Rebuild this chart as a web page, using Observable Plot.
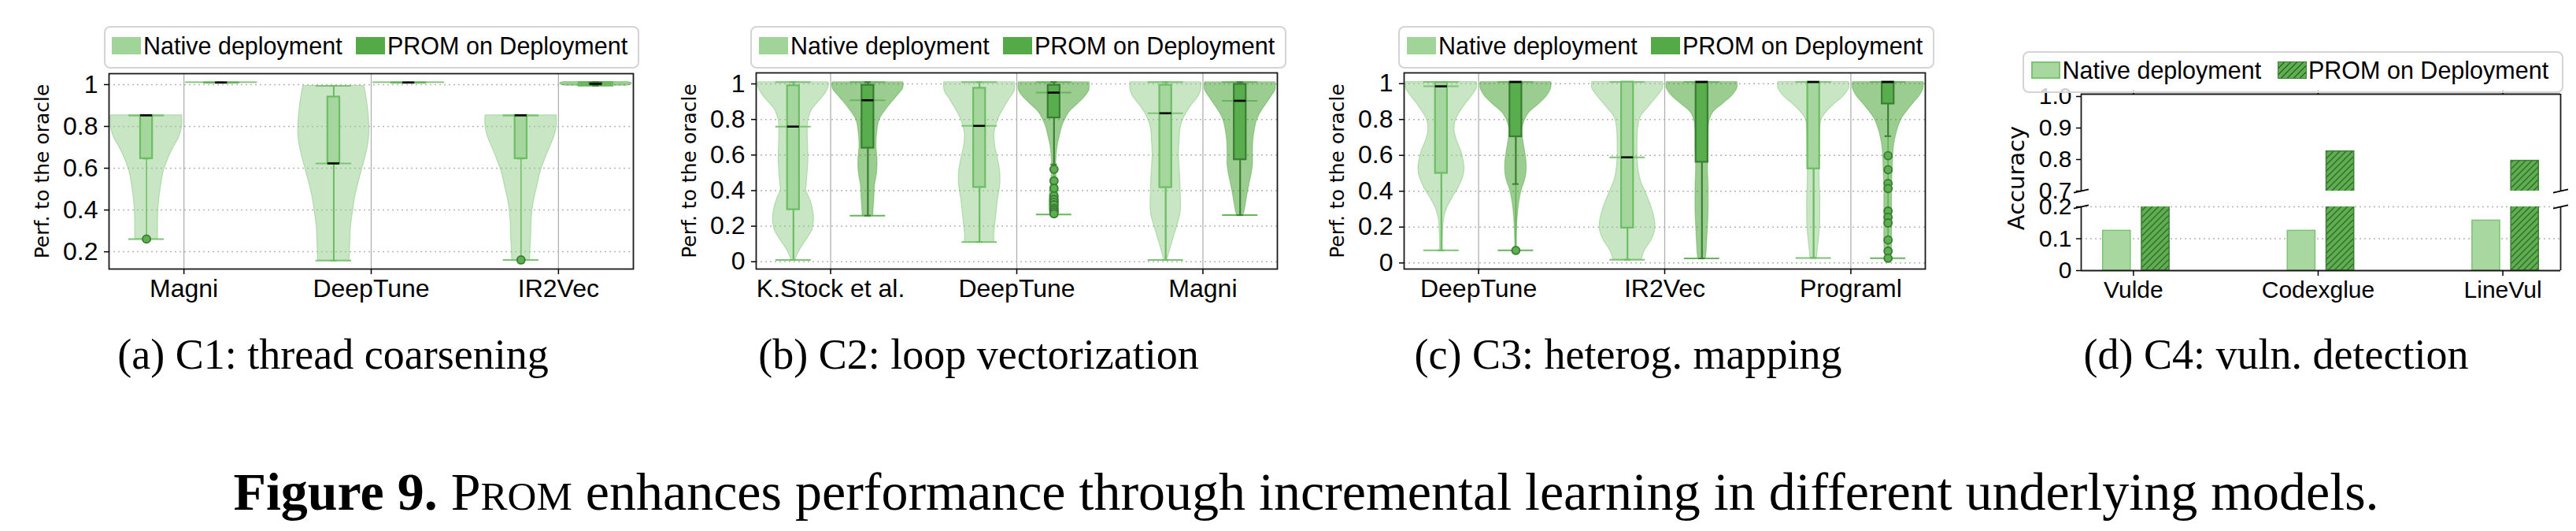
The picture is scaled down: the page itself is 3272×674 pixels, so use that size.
<!DOCTYPE html>
<html><head><meta charset="utf-8">
<script src="https://cdn.jsdelivr.net/npm/d3@7"></script>
<script src="https://cdn.jsdelivr.net/npm/@observablehq/plot@0.6"></script>
<style>
body{margin:0;background:#fff;}
#root{position:relative;width:3272px;height:674px;overflow:hidden;background:#fff;}
#root svg{position:absolute;}
.legend{position:absolute;box-sizing:border-box;border:2px solid #d4d4d4;border-radius:8px;background:rgba(255,255,255,0.8);font-family:"Liberation Sans",Arial,sans-serif;font-size:30.5px;color:#000;}
.sw{position:absolute;box-sizing:border-box;}
.lt{position:absolute;white-space:nowrap;line-height:1;}
</style></head><body><div id="root"></div>
<script>
// ================= DATA =================
const seriesNames = ["Native deployment", "PROM on Deployment"];

// ---- (a) C1: thread coarsening ----
const catsA = ["Magni", "DeepTune", "IR2Vec"];
const yTicksA = [0.2, 0.4, 0.6, 0.8, 1];
const yTickLabelsA = ["0.2", "0.4", "0.6", "0.8", "1"];
const aNatLevels = [
  [0.853, 0.80, 0.75, 0.70, 0.65, 0.585, 0.52, 0.46, 0.40, 0.334, 0.284, 0.261],
  [0.994, 0.90, 0.774, 0.70, 0.623, 0.548, 0.472, 0.397, 0.32, 0.246, 0.158],
  [0.853, 0.80, 0.75, 0.70, 0.65, 0.585, 0.52, 0.46, 0.40, 0.334, 0.27, 0.21, 0.161]
];
const aNatWidths = [
  [1.0, 1.0, 0.92, 0.76, 0.62, 0.48, 0.41, 0.36, 0.33, 0.32, 0.32, 0.32],
  [0.86, 0.95, 1.0, 0.95, 0.84, 0.72, 0.61, 0.54, 0.48, 0.46, 0.44],
  [1.0, 1.0, 0.93, 0.81, 0.69, 0.55, 0.46, 0.38, 0.32, 0.29, 0.28, 0.26, 0.25]
];
// [min, lower whisker, q1, median, q3, upper whisker, max]
const aNatStats = [
  [0.261, 0.646, 0.646, 0.853, 0.853, 0.853, 0.853],
  [0.158, 0.158, 0.623, 0.623, 0.941, 0.994, 0.994],
  [0.161, 0.646, 0.646, 0.853, 0.853, 0.853, 0.853]
];
const aNatOutliers = [[0.261], [], [0.161]];
const aPromLevels = [[1.012, 1.008], [1.012, 1.008], [1.013, 1.008, 1.002, 0.995]];
const aPromWidths = [[1, 1], [1, 1], [0.9, 1.0, 1.0, 0.85]];
const aPromStats = [
  [1.01, 1.01, 1.01, 1.01, 1.01, 1.01, 1.01],
  [1.01, 1.01, 1.01, 1.01, 1.01, 1.01, 1.01],
  [0.995, 0.995, 0.999, 1.004, 1.008, 1.013, 1.013]
];
const aPromOutliers = [[], [], []];

// ---- (b) C2: loop vectorization ----
const catsB = ["K.Stock et al.", "DeepTune", "Magni"];
const yTicksB = [0, 0.2, 0.4, 0.6, 0.8, 1];
const yTickLabelsB = ["0", "0.2", "0.4", "0.6", "0.8", "1"];
const bNatLevels = [
  [1.01, 0.99, 0.946, 0.902, 0.857, 0.798, 0.754, 0.65, 0.577, 0.43, 0.40, 0.355, 0.311, 0.237, 0.178, 0.118, 0.059, 0.01],
  [1.01, 0.961, 0.917, 0.857, 0.798, 0.724, 0.65, 0.577, 0.503, 0.429, 0.355, 0.281, 0.207, 0.148, 0.111],
  [1.01, 0.968, 0.931, 0.872, 0.813, 0.754, 0.68, 0.606, 0.532, 0.458, 0.384, 0.325, 0.266, 0.207, 0.133, 0.059, 0.01]
];
const bNatWidths = [
  [0.99, 1.0, 0.9, 0.72, 0.53, 0.42, 0.40, 0.41, 0.42, 0.37, 0.36, 0.46, 0.53, 0.58, 0.53, 0.35, 0.16, 0.05],
  [1.0, 0.99, 0.85, 0.67, 0.52, 0.42, 0.44, 0.52, 0.58, 0.58, 0.52, 0.48, 0.44, 0.41, 0.42],
  [1.0, 1.0, 0.93, 0.70, 0.52, 0.42, 0.39, 0.37, 0.39, 0.41, 0.42, 0.43, 0.41, 0.33, 0.22, 0.11, 0.04]
];
const bNatStats = [
  [0.01, 0.01, 0.293, 0.76, 0.99, 1.01, 1.01],
  [0.111, 0.111, 0.418, 0.764, 0.976, 1.01, 1.01],
  [0.01, 0.01, 0.417, 0.835, 0.993, 1.01, 1.01]
];
const bNatOutliers = [[], [], []];
const bPromLevels = [
  [1.01, 0.976, 0.946, 0.902, 0.857, 0.798, 0.724, 0.65, 0.576, 0.503, 0.429, 0.355, 0.296, 0.259],
  [1.01, 0.968, 0.931, 0.887, 0.843, 0.798, 0.754, 0.695, 0.65, 0.591, 0.547, 0.473, 0.414, 0.355, 0.296, 0.266],
  [1.01, 0.968, 0.931, 0.887, 0.843, 0.798, 0.739, 0.68, 0.606, 0.547, 0.503, 0.444, 0.384, 0.325, 0.274, 0.262]
];
const bPromWidths = [
  [1.0, 1.0, 0.89, 0.70, 0.52, 0.33, 0.26, 0.24, 0.27, 0.26, 0.20, 0.18, 0.16, 0.15],
  [1.0, 1.0, 0.89, 0.67, 0.44, 0.31, 0.22, 0.15, 0.10, 0.07, 0.06, 0.07, 0.10, 0.13, 0.13, 0.11],
  [1.0, 1.0, 0.89, 0.74, 0.59, 0.48, 0.41, 0.37, 0.36, 0.36, 0.33, 0.27, 0.21, 0.16, 0.11, 0.09]
];
const bPromStats = [
  [0.259, 0.259, 0.639, 0.908, 0.993, 1.01, 1.01],
  [0.266, 0.547, 0.809, 0.951, 0.993, 1.01, 1.01],
  [0.262, 0.262, 0.574, 0.905, 0.998, 1.01, 1.01]
];
const bPromOutliers = [[], [0.52, 0.455, 0.413, 0.37, 0.35, 0.335, 0.32, 0.30, 0.29, 0.28, 0.27], []];

// ---- (c) C3: heterog. mapping ----
const catsC = ["DeepTune", "IR2Vec", "Programl"];
const yTicksC = [0, 0.2, 0.4, 0.6, 0.8, 1];
const yTickLabelsC = ["0", "0.2", "0.4", "0.6", "0.8", "1"];
const cNatLevels = [
  [1.009, 0.975, 0.931, 0.872, 0.799, 0.74, 0.682, 0.623, 0.565, 0.521, 0.477, 0.418, 0.359, 0.301, 0.242, 0.183, 0.125, 0.07],
  [1.009, 0.975, 0.931, 0.872, 0.814, 0.755, 0.682, 0.609, 0.535, 0.462, 0.389, 0.315, 0.242, 0.183, 0.125, 0.066, 0.018],
  [1.009, 0.975, 0.931, 0.887, 0.843, 0.799, 0.726, 0.652, 0.579, 0.506, 0.433, 0.359, 0.286, 0.213, 0.139, 0.066, 0.028]
];
const cNatWidths = [
  [1.0, 1.0, 0.86, 0.63, 0.41, 0.37, 0.44, 0.56, 0.63, 0.65, 0.61, 0.48, 0.30, 0.15, 0.07, 0.05, 0.04, 0.04],
  [1.0, 1.0, 0.85, 0.60, 0.37, 0.30, 0.28, 0.28, 0.30, 0.37, 0.52, 0.67, 0.77, 0.78, 0.67, 0.48, 0.40],
  [1.0, 1.0, 0.85, 0.59, 0.37, 0.22, 0.18, 0.17, 0.165, 0.165, 0.17, 0.185, 0.185, 0.18, 0.15, 0.11, 0.09]
];
const cNatStats = [
  [0.07, 0.07, 0.50, 0.985, 1.007, 1.009, 1.009],
  [0.018, 0.018, 0.195, 0.589, 1.009, 1.009, 1.009],
  [0.028, 0.028, 0.525, 1.009, 1.009, 1.009, 1.009]
];
const cNatOutliers = [[], [], []];
const cPromLevels = [
  [1.009, 0.975, 0.931, 0.887, 0.843, 0.799, 0.74, 0.682, 0.623, 0.565, 0.506, 0.462, 0.403, 0.33, 0.257, 0.183, 0.11, 0.07],
  [1.009, 0.975, 0.931, 0.887, 0.843, 0.799, 0.726, 0.652, 0.579, 0.506, 0.433, 0.359, 0.286, 0.213, 0.139, 0.066, 0.025],
  [1.009, 0.975, 0.931, 0.887, 0.843, 0.799, 0.74, 0.682, 0.623, 0.535, 0.433, 0.33, 0.213, 0.125, 0.066, 0.028]
];
const cPromWidths = [
  [1.0, 1.0, 0.88, 0.66, 0.40, 0.26, 0.18, 0.21, 0.26, 0.30, 0.30, 0.26, 0.16, 0.09, 0.05, 0.03, 0.02, 0.02],
  [1.0, 1.0, 0.85, 0.59, 0.33, 0.22, 0.185, 0.185, 0.17, 0.17, 0.185, 0.185, 0.185, 0.17, 0.15, 0.13, 0.11],
  [1.0, 1.0, 0.89, 0.70, 0.52, 0.37, 0.26, 0.19, 0.15, 0.13, 0.11, 0.11, 0.11, 0.11, 0.10, 0.07]
];
const cPromStats = [
  [0.07, 0.44, 0.704, 1.009, 1.009, 1.009, 1.009],
  [0.025, 0.025, 0.562, 1.009, 1.009, 1.009, 1.009],
  [0.026, 0.707, 0.887, 1.009, 1.009, 1.009, 1.009]
];
const cPromOutliers = [[0.07], [], [0.598, 0.52, 0.443, 0.415, 0.289, 0.254, 0.223, 0.128, 0.066, 0.026]];

// ---- (d) C4: vuln. detection ----
const catsD = ["Vulde", "Codexglue", "LineVul"];
const dNative = [0.125, 0.125, 0.157];
const dProm = [0.25, 0.826, 0.796];
const dUpperTicks = [0.7, 0.8, 0.9, 1.0];
const dUpperTickLabels = ["0.7", "0.8", "0.9", "1.0"];
const dLowerTicks = [0, 0.1, 0.2];
const dLowerTickLabels = ["0", "0.1", "0.2"];

const yLabelABC = "Perf. to the oracle";
const yLabelD = "Accuracy";
const subCaptions = ["(a) C1: thread coarsening", "(b) C2: loop vectorization", "(c) C3: heterog. mapping", "(d) C4: vuln. detection"];
const figLead = "Figure 9.";
const figName = ["P", "ROM"];
const figRest = " enhances performance through incremental learning in different underlying models.";

// ================= STYLE / LAYOUT =================
const FONT = "'Liberation Sans', Arial, Helvetica, sans-serif";
const HW = 0.19, OFF = 0.2, BOXW = 0.032, EXW = 0.095, CAPW = 0.017;
const NAT = {violin: "#91cd89", line: "#7cc474", boxFill: "#a5d69e", boxEdge: "#6cbd64"};
const PRO = {violin: "#379b23", line: "#66b55b", boxFill: "#58ad4c", boxEdge: "#3b7d34"};

const root = document.getElementById("root");

// hatch pattern
const defs = d3.create("svg").attr("width", 0).attr("height", 0).style("position", "absolute");
const pat = defs.append("defs").append("pattern").attr("id", "hatchD")
  .attr("patternUnits", "userSpaceOnUse").attr("width", 8).attr("height", 8);
pat.append("rect").attr("width", 8).attr("height", 8).attr("fill", "#5fae52");
pat.append("path").attr("d", "M-2,2 L2,-2 M0,8 L8,0 M6,10 L10,6").attr("stroke", "#2e6a28").attr("stroke-width", 1.3);
root.appendChild(defs.node());

function place(svg, left, top) {
  svg.style.left = left + "px";
  svg.style.top = top + "px";
  root.appendChild(svg);
}

function violinPanel(o) {
  const groups = [
    {key: "n", off: -OFF, c: NAT, levels: o.natLevels, widths: o.natWidths, stats: o.natStats, out: o.natOut},
    {key: "p", off: OFF, c: PRO, levels: o.promLevels, widths: o.promWidths, stats: o.promStats, out: o.promOut}
  ];
  const viol = [], stats = [], ext = [], outs = [];
  groups.forEach(g => o.cats.forEach((c, i) => {
    const pos = i + g.off;
    g.levels[i].forEach((v, j) => viol.push({id: g.key + i, key: g.key, v,
      xl: pos - g.widths[i][j] * HW, xr: pos + g.widths[i][j] * HW}));
    const [mn, wl, q1, md, q3, wh, mx] = g.stats[i];
    stats.push({pos, mn, wl, q1, md, q3, wh, mx, line: g.c.line, boxFill: g.c.boxFill, boxEdge: g.c.boxEdge});
    [mn, mx, md].forEach(v => ext.push({pos, v, line: g.c.line}));
    g.out[i].forEach(v => outs.push({pos, v}));
  }));
  const idx = o.cats.map((c, i) => i);
  return Plot.plot({
    width: o.width, height: o.height,
    marginLeft: o.ml, marginRight: o.mr, marginTop: o.mt, marginBottom: o.mb,
    x: {domain: [-0.4, o.cats.length - 0.6]},
    y: {domain: o.yDomain},
    color: {type: "identity"},
    style: {fontFamily: FONT, background: "transparent", overflow: "visible"},
    marks: [
      Plot.gridY(o.yTicks, {stroke: "#b5b5b5", strokeDasharray: "2,4", strokeWidth: 1.5, strokeOpacity: 1}),
      Plot.gridX(idx, {stroke: "#b0b0b0", strokeWidth: 1.3, strokeOpacity: 1}),
      Plot.areaX(viol.filter(d => d.key === "n"), {y: "v", x1: "xl", x2: "xr", z: "id", fill: NAT.violin, fillOpacity: 0.5, stroke: NAT.violin, strokeOpacity: 0.6, strokeWidth: 1.2, curve: "catmull-rom"}),
      Plot.areaX(viol.filter(d => d.key === "p"), {y: "v", x1: "xl", x2: "xr", z: "id", fill: PRO.violin, fillOpacity: 0.5, stroke: PRO.violin, strokeOpacity: 0.35, strokeWidth: 1.2, curve: "catmull-rom"}),
      Plot.ruleX(stats, {x: "pos", y1: "mn", y2: "mx", stroke: "line", strokeWidth: 1.8}),
      Plot.ruleY(ext, {y: "v", x1: d => d.pos - EXW, x2: d => d.pos + EXW, stroke: "line", strokeWidth: 2}),
      Plot.ruleX(stats, {x: "pos", y1: "q3", y2: "wh", stroke: "boxEdge", strokeWidth: 2}),
      Plot.ruleX(stats, {x: "pos", y1: "q1", y2: "wl", stroke: "boxEdge", strokeWidth: 2}),
      Plot.ruleY(stats, {y: "wh", x1: d => d.pos - CAPW, x2: d => d.pos + CAPW, stroke: "boxEdge", strokeWidth: 2}),
      Plot.ruleY(stats, {y: "wl", x1: d => d.pos - CAPW, x2: d => d.pos + CAPW, stroke: "boxEdge", strokeWidth: 2}),
      Plot.rect(stats, {x1: d => d.pos - BOXW, x2: d => d.pos + BOXW, y1: "q1", y2: "q3", fill: "boxFill", stroke: "boxEdge", strokeWidth: 2.2}),
      Plot.ruleY(stats, {y: "md", x1: d => d.pos - BOXW, x2: d => d.pos + BOXW, stroke: "#000", strokeWidth: 2.6}),
      Plot.dot(outs, {x: "pos", y: "v", r: 5, fill: "#5cb050", stroke: "#3a7a33", strokeWidth: 1.8}),
      Plot.frame({stroke: "#1a1a1a", strokeWidth: 1.8}),
      Plot.axisY(o.yTicks, {tickFormat: d => o.yTickLabels[o.yTicks.indexOf(d)], fontSize: 32, tickSize: 6, tickPadding: 8, label: null, strokeWidth: 1.5}),
      Plot.axisX(idx, {tickFormat: d => o.cats[d], fontSize: 32, tickSize: 7, tickPadding: 6, label: null, strokeWidth: 1.5}),
      Plot.text([yLabelABC], {text: d => d, frameAnchor: "left", textAnchor: "middle", lineAnchor: "middle", rotate: -90, dx: -85, fontSize: 25, fontFamily: "'DejaVu Sans', sans-serif", fill: "#000"})
    ]
  });
}

// panel a
place(violinPanel({cats: catsA, yDomain: [0.1175, 1.0525], yTicks: yTicksA, yTickLabels: yTickLabelsA,
  natLevels: aNatLevels, natWidths: aNatWidths, natStats: aNatStats, natOut: aNatOutliers,
  promLevels: aPromLevels, promWidths: aPromWidths, promStats: aPromStats, promOut: aPromOutliers,
  width: 820, height: 400, ml: 138, mr: 16, mt: 93, mb: 59}), 0, 0);
// panel b
place(violinPanel({cats: catsB, yDomain: [-0.041, 1.062], yTicks: yTicksB, yTickLabels: yTickLabelsB,
  natLevels: bNatLevels, natWidths: bNatWidths, natStats: bNatStats, natOut: bNatOutliers,
  promLevels: bPromLevels, promWidths: bPromWidths, promStats: bPromStats, promOut: bPromOutliers,
  width: 820, height: 400, ml: 140, mr: 18, mt: 92, mb: 59}), 820, 0);
// panel c
place(violinPanel({cats: catsC, yDomain: [-0.034, 1.06], yTicks: yTicksC, yTickLabels: yTickLabelsC,
  natLevels: cNatLevels, natWidths: cNatWidths, natStats: cNatStats, natOut: cNatOutliers,
  promLevels: cPromLevels, promWidths: cPromWidths, promStats: cPromStats, promOut: cPromOutliers,
  width: 820, height: 400, ml: 143, mr: 15, mt: 92, mb: 59}), 1640, 0);

// panel d (broken y axis: two stacked plots)
const xDomD = [-0.283, 2.313];
const NAT_OFF_D = -0.09, PRO_OFF_D = 0.12, BARW_D = 0.15;
const barsD = [];
catsD.forEach((c, i) => {
  barsD.push({x1: i + NAT_OFF_D - BARW_D / 2, x2: i + NAT_OFF_D + BARW_D / 2, v: dNative[i], fill: "#a8d8a0", stroke: "#7cc474"});
  barsD.push({x1: i + PRO_OFF_D - BARW_D / 2, x2: i + PRO_OFF_D + BARW_D / 2, v: dProm[i], fill: "url(#hatchD)", stroke: "#3f7f37"});
});
const idxD = catsD.map((c, i) => i);
function breakLinks(yv, dy) {
  return xDomD.map(x => ({x1: x - 0.0405, x2: x + 0.0405, y1: yv - dy, y2: yv + dy}));
}
const upperD = Plot.plot({
  width: 812, height: 400, marginLeft: 183, marginRight: 20, marginTop: 119, marginBottom: 158,
  x: {domain: xDomD}, y: {domain: [0.7, 1.0075]},
  color: {type: "identity"},
  style: {fontFamily: FONT, background: "transparent", overflow: "visible"},
  marks: [
    Plot.rect(barsD, {x1: "x1", x2: "x2", y1: 0, y2: "v", fill: "fill", stroke: "stroke", strokeWidth: 1.5, clip: true}),
    Plot.ruleX(xDomD, {stroke: "#1a1a1a", strokeWidth: 1.8}),
    Plot.ruleY([1.0075], {stroke: "#1a1a1a", strokeWidth: 1.8}),
    Plot.axisY(dUpperTicks, {tickFormat: d => dUpperTickLabels[dUpperTicks.indexOf(d)], fontSize: 30, tickSize: 6, tickPadding: 6, label: null, strokeWidth: 1.5}),
    Plot.axisX(idxD, {anchor: "top", tickFormat: () => "", tickSize: 6, label: null, strokeWidth: 1.5}),
    Plot.link(breakLinks(0.7, 0.0055), {x1: "x1", x2: "x2", y1: "y1", y2: "y2", stroke: "#000", strokeWidth: 1.8})
  ]
});
place(upperD, 2460, 0);
const lowerD = Plot.plot({
  width: 812, height: 400, marginLeft: 183, marginRight: 20, marginTop: 262, marginBottom: 57,
  x: {domain: xDomD}, y: {domain: [0, 0.2]},
  color: {type: "identity"},
  style: {fontFamily: FONT, background: "transparent", overflow: "visible"},
  marks: [
    Plot.gridY([0.1, 0.2], {stroke: "#b5b5b5", strokeDasharray: "2,4", strokeWidth: 1.5, strokeOpacity: 1}),
    Plot.rect(barsD, {x1: "x1", x2: "x2", y1: 0, y2: "v", fill: "fill", stroke: "stroke", strokeWidth: 1.5, clip: true}),
    Plot.ruleX(xDomD, {stroke: "#1a1a1a", strokeWidth: 1.8}),
    Plot.ruleY([0], {stroke: "#1a1a1a", strokeWidth: 1.8}),
    Plot.axisY(dLowerTicks, {tickFormat: d => dLowerTickLabels[dLowerTicks.indexOf(d)], fontSize: 30, tickSize: 6, tickPadding: 6, label: null, strokeWidth: 1.5}),
    Plot.axisX(idxD, {tickFormat: d => catsD[d], fontSize: 30, tickSize: 7, tickPadding: 6, label: null, strokeWidth: 1.5}),
    Plot.link(breakLinks(0.2, 0.0054), {x1: "x1", x2: "x2", y1: "y1", y2: "y2", stroke: "#000", strokeWidth: 1.8})
  ]
});
place(lowerD, 2460, 0);

// ================= LEGENDS =================
function legend(left, top, w, h, swY, swH, offs, swStyles) {
  const box = document.createElement("div");
  box.className = "legend";
  Object.assign(box.style, {left: left + "px", top: top + "px", width: w + "px", height: h + "px"});
  seriesNames.forEach((name, k) => {
    const sw = document.createElement("div");
    sw.className = "sw";
    Object.assign(sw.style, {left: (offs[2 * k] - 2) + "px", top: (swY - top - 2) + "px", width: "37px", height: swH + "px"}, swStyles[k]);
    box.appendChild(sw);
    const t = document.createElement("div");
    t.className = "lt";
    t.textContent = name;
    Object.assign(t.style, {left: (offs[2 * k + 1] - 2) + "px", top: (swY + swH / 2 - 15 - top - 2) + "px"});
    box.appendChild(t);
  });
  root.appendChild(box);
}
const swABC = [{background: "#a0d498"}, {background: "#55aa48"}];
legend(131.5, 33, 680, 54, 47, 22, [10.5, 50.5, 320, 360.5], swABC);
legend(953, 33, 681, 54, 47, 22, [11, 51, 320.5, 361], swABC);
legend(1776, 33, 681, 54, 47, 22, [11, 51, 320.5, 361], swABC);
const hatchBg = "repeating-linear-gradient(-45deg, #5fae52 0px, #5fae52 4.4px, #2e6a28 4.4px, #2e6a28 5.7px)";
legend(2569, 65, 687, 53, 78, 22, [11, 50.5, 324, 363],
  [{background: "#a8d8a0", border: "2px solid #7cc474"}, {background: hatchBg, border: "1.5px solid #3f7f37"}]);

// ================= LABELS & CAPTIONS =================
const ov = d3.create("svg").attr("width", 3272).attr("height", 674).style("left", "0px").style("top", "0px");
// y label of the broken-axis panel (d), spanning both stacked axes
ov.append("text").attr("transform", "translate(2561,226) rotate(-90)")
  .attr("text-anchor", "middle").attr("dy", "0.35em")
  .attr("font-family", "'DejaVu Sans', sans-serif").attr("font-size", 29).text(yLabelD);
const subCapX = [423, 1243, 2068, 2891];
subCaptions.forEach((t, i) => ov.append("text").attr("x", subCapX[i]).attr("y", 468)
  .attr("text-anchor", "middle").attr("font-family", "'Liberation Serif', serif").attr("font-size", 54).text(t));
const fc = ov.append("text").attr("x", 1659).attr("y", 647).attr("text-anchor", "middle")
  .attr("font-family", "'Liberation Serif', serif").attr("font-size", 68);
fc.append("tspan").attr("font-weight", "bold").text(figLead + " ");
fc.append("tspan").text(figName[0]);
fc.append("tspan").attr("font-size", 51).text(figName[1]);
fc.append("tspan").text(figRest);
root.appendChild(ov.node());
</script></body></html>
